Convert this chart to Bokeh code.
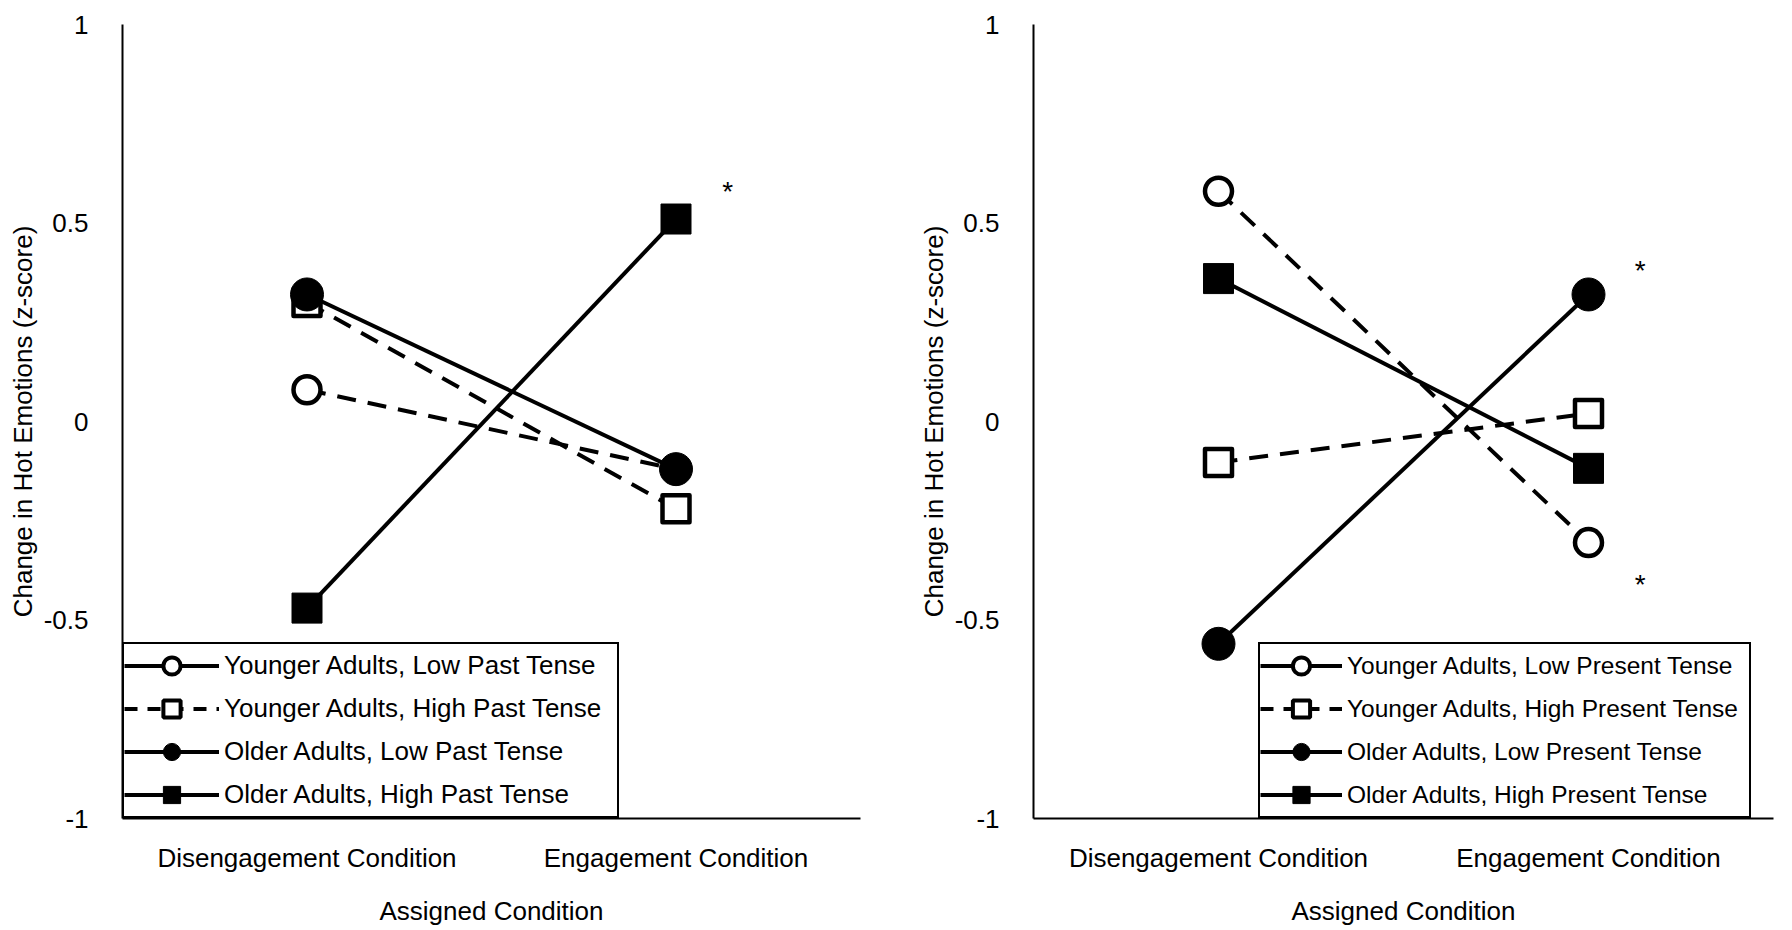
from bokeh.plotting import figure
from bokeh.layouts import row
from bokeh.models import FixedTicker, Legend, LegendItem, ColumnDataSource
from bokeh.core.properties import value
from bokeh.embed import file_html
from bokeh.resources import INLINE

# ---------------- data ----------------
conditions = ["Disengagement Condition", "Engagement Condition"]
cond_pos = [0.5, 1.5]

past_labels = ["Younger Adults, Low Past Tense", "Younger Adults, High Past Tense",
               "Older Adults, Low Past Tense", "Older Adults, High Past Tense"]
past_young_low = [0.08, -0.12]
past_young_high = [0.30, -0.22]
past_old_low = [0.32, -0.12]
past_old_high = [-0.47, 0.51]

present_labels = ["Younger Adults, Low Present Tense", "Younger Adults, High Present Tense",
                  "Older Adults, Low Present Tense", "Older Adults, High Present Tense"]
pres_young_low = [0.58, -0.305]
pres_young_high = [-0.103, 0.02]
pres_old_low = [-0.56, 0.32]
pres_old_high = [0.36, -0.118]

# significance asterisks (annotation positions)
past_star_x = [1.64]
past_star_y = [0.58]
pres_star_x = [1.64, 1.64]
pres_star_y = [0.38, -0.41]

y_ticks = [-1, -0.5, 0, 0.5, 1]
y_tick_labels = ["-1", "-0.5", "0", "0.5", "1"]

y_title = "Change in Hot Emotions (z-score)"
x_title = "Assigned Condition"

FONT = "Liberation Sans"
FS = "26px"

# series styles: (dash, marker, fill, size, line width)
styles = [
    ("19 12", "circle", "white", 27, 4.5),
    ("19 12", "square", "white", 27, 4.5),
    ("solid", "circle", "black", 33, 1),
    ("solid", "square", "black", 30, 1),
]
legend_dash = ["solid", "13 10", "solid", "solid"]
NAN = float("nan")


def make_panel(series, labels, star_x, star_y, border_left, border_right, frame_w,
               glyph_w, legend_x, label_w, legend_fs):
    p = figure(output_backend="svg", toolbar_location=None,
               frame_width=frame_w, frame_height=794,
               min_border_left=border_left, min_border_right=border_right,
               min_border_top=24, min_border_bottom=110,
               x_range=(0, 2), y_range=(-1, 1))
    p.outline_line_color = None
    p.grid.grid_line_color = None
    p.background_fill_color = "white"
    p.border_fill_color = "white"

    # axes
    for ax in (p.xaxis[0], p.yaxis[0]):
        ax.axis_line_color = "black"
        ax.axis_line_width = 2
        ax.major_tick_line_color = None
        ax.minor_tick_line_color = None
        ax.major_label_text_font = FONT
        ax.major_label_text_font_size = FS
        ax.major_label_text_color = "black"
        ax.axis_label_text_font = FONT
        ax.axis_label_text_font_size = FS
        ax.axis_label_text_font_style = "normal"
        ax.axis_label_text_color = "black"
    p.xaxis.ticker = FixedTicker(ticks=cond_pos)
    p.xaxis.major_label_overrides = {pos: lab for pos, lab in zip(cond_pos, conditions)}
    p.xaxis.major_label_standoff = 18
    p.xaxis.axis_label = x_title
    p.xaxis.axis_label_standoff = 20
    p.yaxis.ticker = FixedTicker(ticks=y_ticks)
    p.yaxis.major_label_overrides = {t: lab for t, lab in zip(y_ticks, y_tick_labels)}
    p.yaxis.major_label_standoff = 28
    p.yaxis.axis_label = y_title
    p.yaxis.axis_label_standoff = 3

    # data lines + markers
    for vals, (dash, marker, fill, size, lw) in zip(series, styles):
        src = ColumnDataSource(dict(x=cond_pos, y=vals))
        p.line("x", "y", source=src, line_color="black", line_width=4,
               line_dash=dash)
        p.scatter("x", "y", source=src, marker=marker, size=size,
                  fill_color=fill, line_color="black", line_width=lw,
                  line_join="round")

    # significance asterisks
    p.text(x=star_x, y=star_y, text=["*"] * len(star_x),
           text_font=value(FONT), text_font_size="28px",
           text_align="center", text_baseline="middle", text_color="black")

    # legend (legend-only renderers reproduce the key style; NaN -> nothing plotted)
    items = []
    for lab, (dash, marker, fill, size, lw), ldash in zip(labels, styles, legend_dash):
        key = ColumnDataSource(dict(x=[NAN], y=[NAN]))
        r1 = p.line("x", "y", source=key, line_color="black", line_width=4,
                    line_dash=ldash)
        r2 = p.scatter("x", "y", source=key, marker=marker, fill_color=fill,
                       line_color="black", line_width=4 if fill == "white" else 1)
        items.append(LegendItem(label=lab, renderers=[r1, r2]))
    leg = Legend(items=items, location=(legend_x, 0),
                 glyph_width=glyph_w, glyph_height=43, label_height=30,
                 label_width=label_w, spacing=0, padding=0, margin=0,
                 label_standoff=5,
                 label_text_font=FONT, label_text_font_size=legend_fs,
                 label_text_color="black",
                 border_line_color="black", border_line_width=2, border_line_alpha=1,
                 background_fill_color="white", background_fill_alpha=1)
    p.add_layout(leg, "center")
    return p


p1 = make_panel([past_young_low, past_young_high, past_old_low, past_old_high],
                past_labels, past_star_x, past_star_y,
                border_left=122, border_right=48, frame_w=738,
                glyph_w=95, legend_x=0, label_w=393, legend_fs="26px")
p2 = make_panel([pres_young_low, pres_young_high, pres_old_low, pres_old_high],
                present_labels, pres_star_x, pres_star_y,
                border_left=125, border_right=11, frame_w=740,
                glyph_w=82, legend_x=225, label_w=402, legend_fs="24.5px")

layout = row(p1, p2)
open("out.html", "w").write(file_html(layout, INLINE))
